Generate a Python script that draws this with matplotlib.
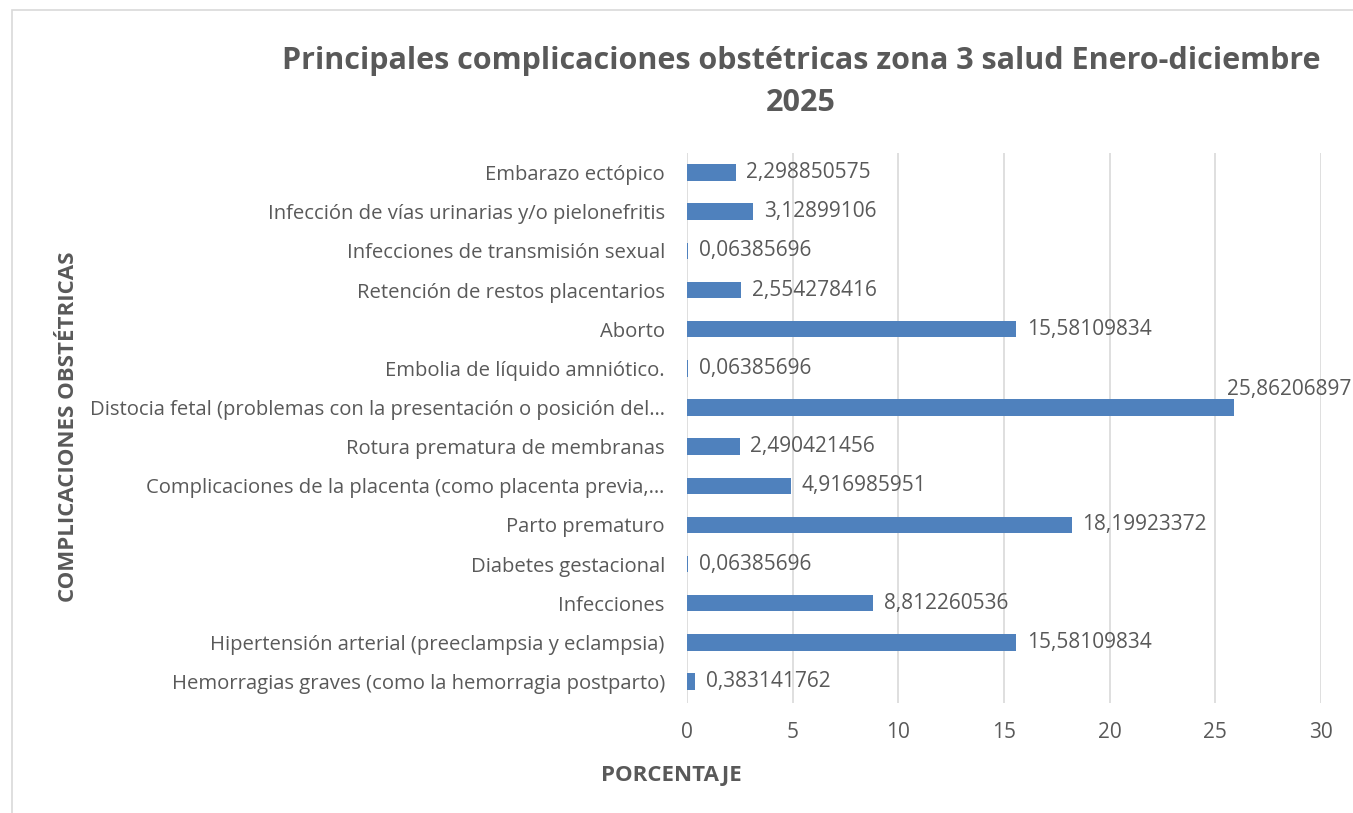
import matplotlib.pyplot as plt
from matplotlib.patches import Rectangle

# Datos (de abajo hacia arriba, como en el grafico)
categorias = [
    "Hemorragias graves (como la hemorragia postparto)",
    "Hipertensión arterial (preeclampsia y eclampsia)",
    "Infecciones",
    "Diabetes gestacional",
    "Parto prematuro",
    "Complicaciones de la placenta (como placenta previa,…",
    "Rotura prematura de membranas",
    "Distocia fetal (problemas con la presentación o posición del…",
    "Embolia de líquido amniótico.",
    "Aborto",
    "Retención de restos placentarios",
    "Infecciones de transmisión sexual",
    "Infección de vías urinarias y/o pielonefritis",
    "Embarazo ectópico",
]
porcentajes = [0.383141762, 15.58109834, 8.812260536, 0.06385696, 18.19923372,
               4.916985951, 2.490421456, 25.86206897, 0.06385696, 15.58109834,
               2.554278416, 0.06385696, 3.12899106, 2.298850575]
etiquetas = ["0,383141762", "15,58109834", "8,812260536", "0,06385696", "18,19923372",
             "4,916985951", "2,490421456", "25,86206897", "0,06385696", "15,58109834",
             "2,554278416", "0,06385696", "3,12899106", "2,298850575"]
xticks = [0, 5, 10, 15, 20, 25, 30]

gris = '#595959'
azul = '#4F81BD'
plt.rcParams['font.family'] = ['Open Sans', 'DejaVu Sans']

fig = plt.figure(figsize=(13.53, 8.13), dpi=100)
fig.patches.append(Rectangle((12 / 1353, -0.01), 1.1, 1 - 10 / 813 + 0.01,
                             transform=fig.transFigure, fill=False,
                             edgecolor='#D9D9D9', linewidth=1.2))

ax = fig.add_axes([687 / 1353, 1 - 703 / 813, (1321 - 687) / 1353, (703 - 153) / 813])
y = range(len(categorias))
ax.barh(y, porcentajes, height=0.42, color=azul, zorder=3)

# etiquetas de datos
for i, (v, t) in enumerate(zip(porcentajes, etiquetas)):
    if v > 25:
        ax.text(v - 0.3, i + 0.45, t, fontsize=15, color=gris, va='center', ha='left', zorder=4)
    else:
        ax.text(v + 0.5, i, t, fontsize=15, color=gris, va='center', ha='left', zorder=4)

ax.set_xlim(0, 30)
ax.set_ylim(-0.55, 13.5)
ax.set_xticks(xticks)
ax.set_yticks(list(y))
ax.set_yticklabels(categorias)
ax.tick_params(axis='both', length=0, labelsize=15, labelcolor=gris)
ax.tick_params(axis='y', labelsize=14.6)
ax.tick_params(axis='x', pad=14)
ax.tick_params(axis='y', pad=16)
ax.grid(axis='x', color='#D9D9D9', linewidth=1.2, zorder=0)
for s in ax.spines.values():
    s.set_visible(False)

fig.text(801 / 1353, 1 - 82 / 813,
         'Principales complicaciones obstétricas zona 3 salud Enero-diciembre\n2025',
         ha='center', va='center', fontsize=22, fontweight='bold', color=gris,
         linespacing=1.5)
fig.text(69 / 1353, 1 - 427 / 813, 'COMPLICACIONES OBSTÉTRICAS', rotation=90,
         ha='center', va='center', fontsize=16, fontweight='bold', color=gris)
fig.text(671 / 1353, 1 - 775 / 813, 'PORCENTAJE', ha='center', va='center',
         fontsize=16, fontweight='bold', color=gris)

fig.savefig('out.png', dpi=100)
